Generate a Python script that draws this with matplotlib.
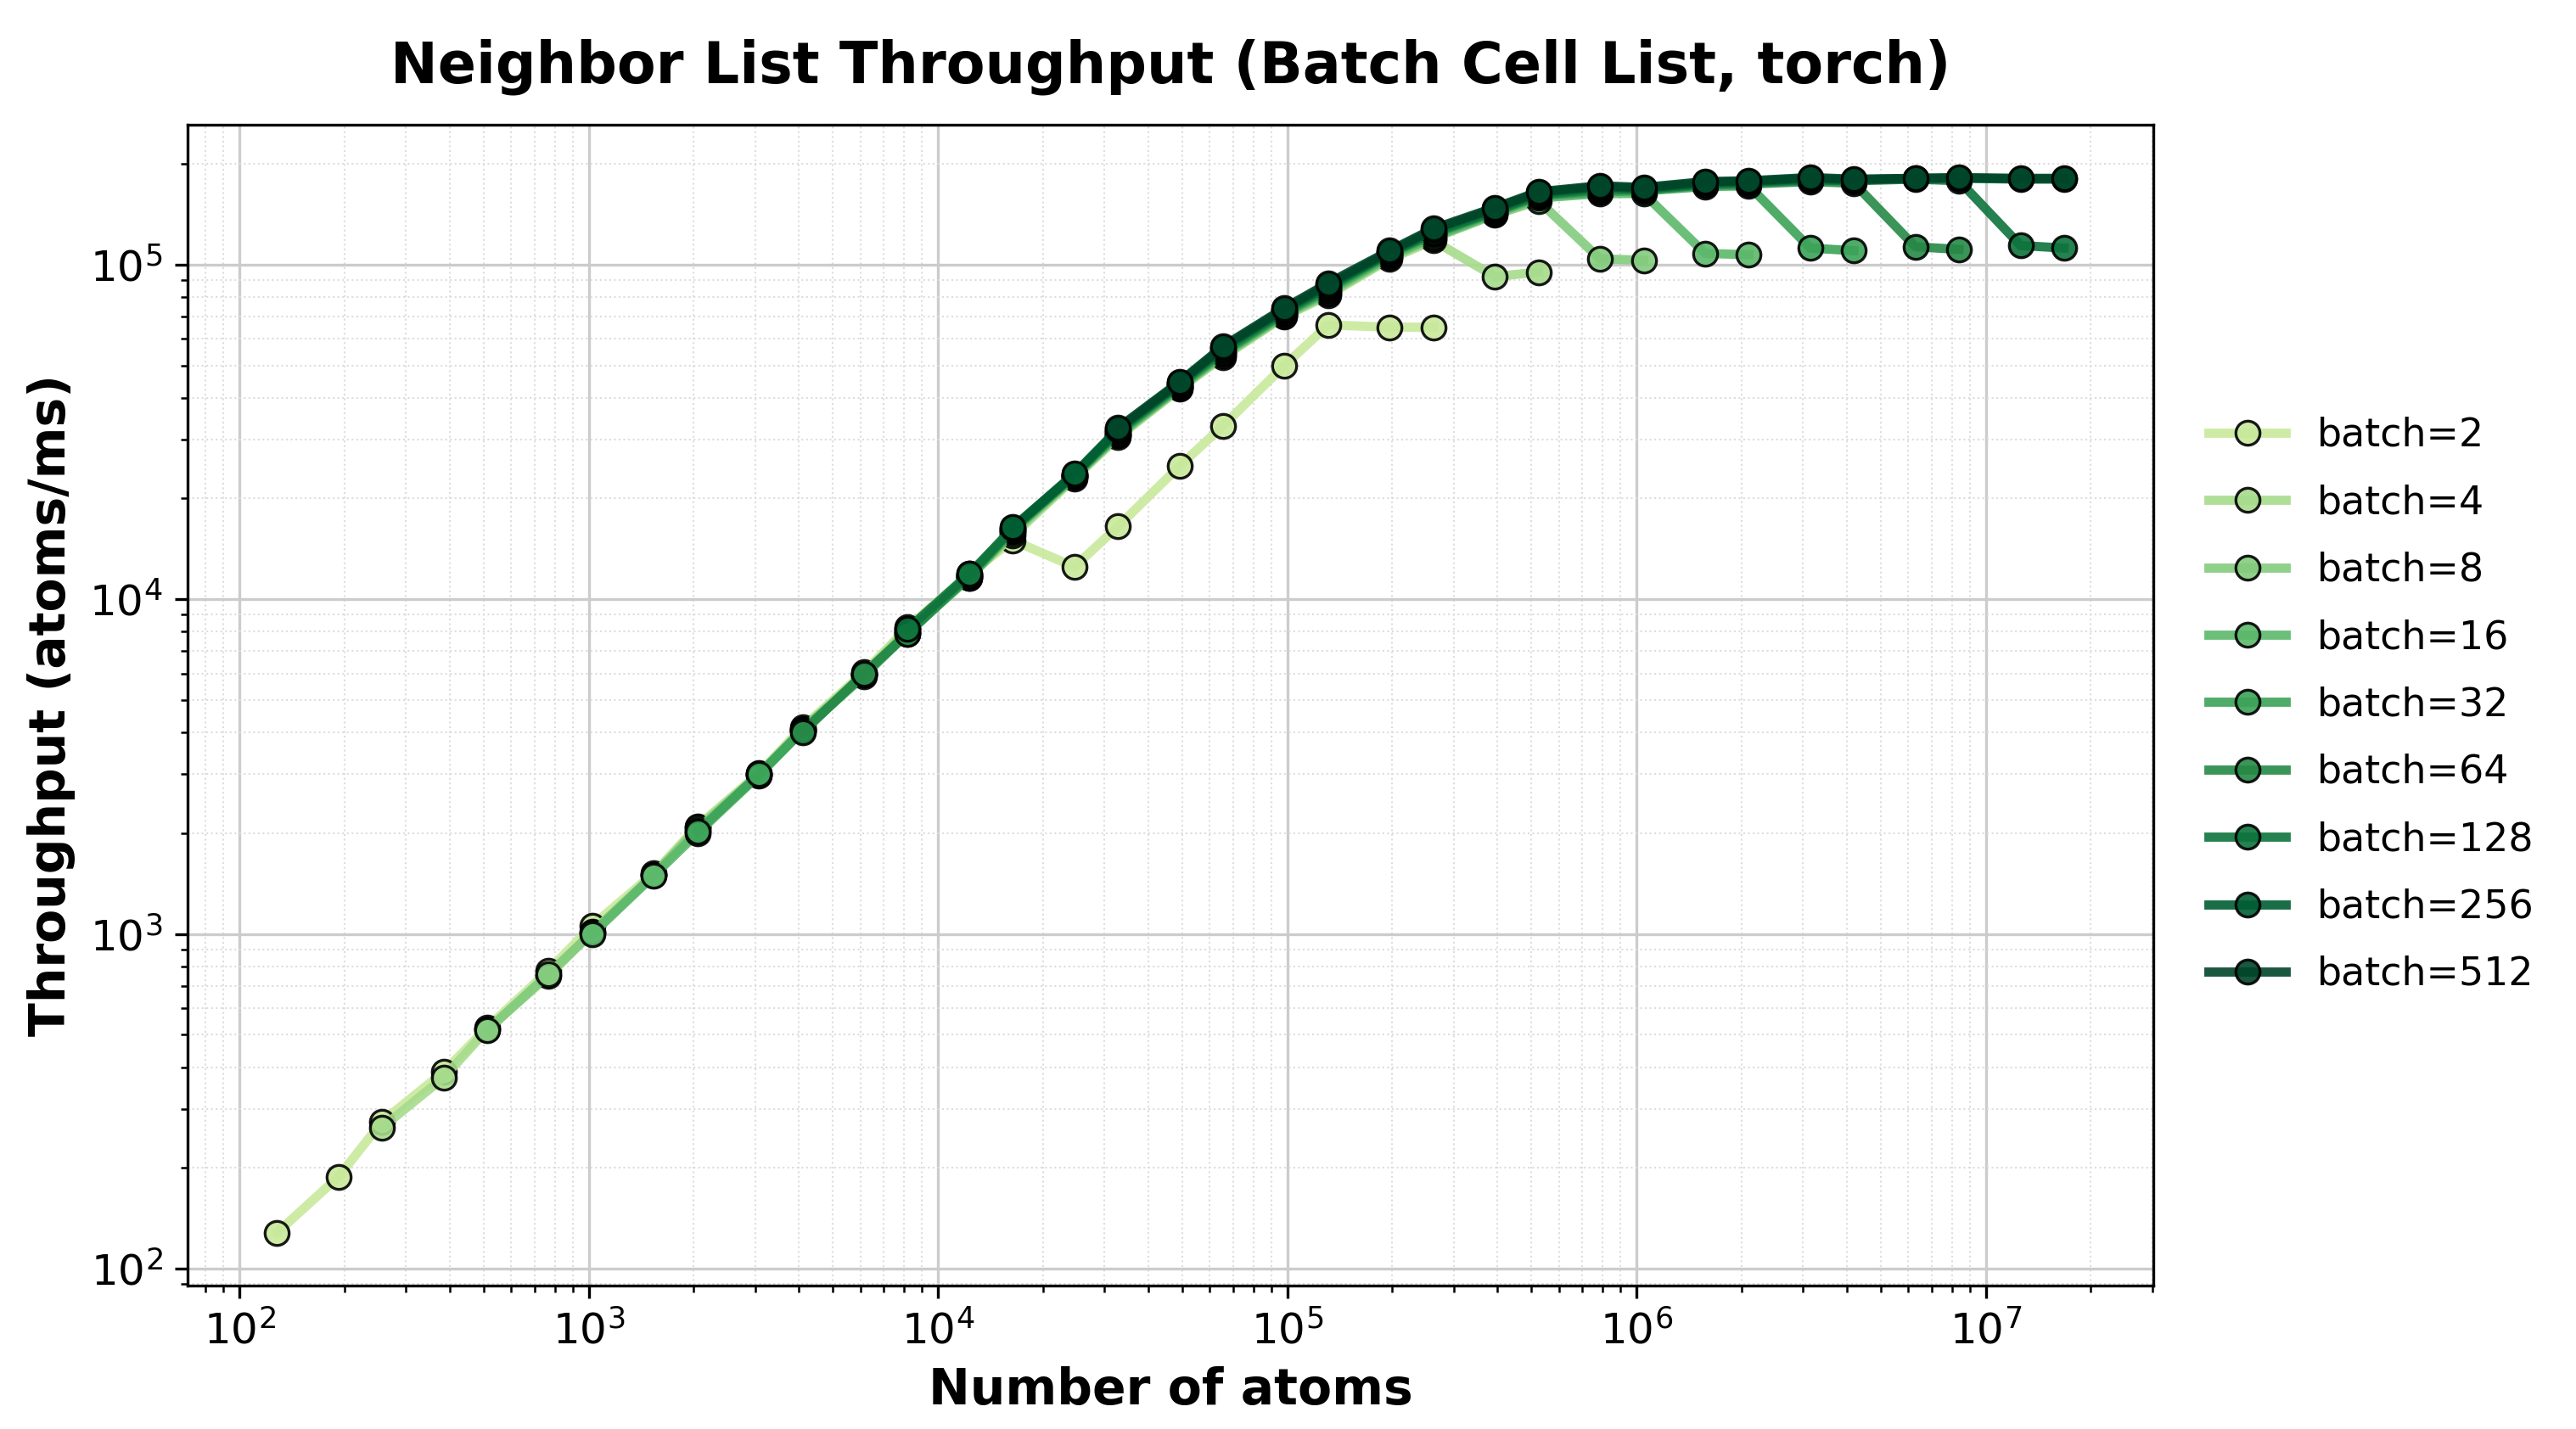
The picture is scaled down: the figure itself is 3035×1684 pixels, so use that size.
import numpy as np
import matplotlib
matplotlib.use("Agg")
import matplotlib.pyplot as plt

# atoms per system; total atoms = batch * system size
system_sizes = [64, 96, 128, 192, 256, 384, 512, 768, 1024, 1536, 2048, 3072, 4096,
                6144, 8192, 12288, 16384, 24576, 32768, 49152, 65536, 98304, 131072]

batches = [2, 4, 8, 16, 32, 64, 128, 256, 512]

# throughput (atoms/ms), one value per system size
tp_b2 = [128, 188, 275, 387, 525, 778, 1060, 1520, 2100, 3020, 4150, 6050, 8250,
         11900, 15000, 12500, 16500, 25000, 33000, 50000, 66000, 65000, 65000]
tp_b4 = [264, 372, 518, 750, 1015, 1500, 2080, 3000, 4100, 6000, 8100, 11700, 15500,
         23000, 30500, 42500, 53000, 70000, 81000, 104000, 118000, 92000, 95000]
tp_b8 = [515, 760, 1010, 1505, 2050, 2990, 4080, 5950, 8000, 11600, 15800, 23200, 30800,
         42800, 53500, 70500, 82000, 105000, 120000, 141000, 155000, 104000, 103000]
tp_b16 = [1000, 1495, 2000, 2980, 4050, 5900, 7950, 11600, 16000, 23300, 31000, 43000,
          54000, 71000, 83000, 106000, 121000, 142000, 158000, 163000, 163000, 108000, 107000]
tp_b32 = [2020, 3000, 4050, 5950, 7900, 11700, 16100, 23400, 31300, 43300, 54500, 71500,
          84000, 107000, 123000, 143000, 160000, 165000, 166000, 171000, 172000, 112000, 110000]
tp_b64 = [4000, 6000, 7900, 11800, 16200, 23500, 31600, 43700, 55000, 72000, 85000, 108000,
          124000, 144000, 161000, 167000, 167000, 173000, 174000, 177000, 175000, 113000, 111000]
tp_b128 = [8150, 11900, 16300, 23600, 31900, 44000, 55800, 72800, 86000, 108500, 125000,
           145000, 162000, 169000, 168000, 174000, 176000, 179000, 178000, 180000, 178000,
           114000, 112000]
tp_b256 = [16400, 23700, 32200, 44300, 56500, 73500, 87000, 109000, 127000, 147000, 164000,
           171000, 169000, 176000, 177000, 181000, 179000, 181000, 181000, 180000, 180000]
tp_b512 = [32500, 44600, 57000, 74200, 88000, 110000, 128000, 148000, 165000,
           172000, 170000, 177000, 178000, 182000, 180000, 181000, 182000, 181000, 181000]

throughputs = [tp_b2, tp_b4, tp_b8, tp_b16, tp_b32, tp_b64, tp_b128, tp_b256, tp_b512]

colors = plt.cm.YlGn(np.linspace(0.3, 1.0, len(batches)))

fig = plt.figure(figsize=(3035 / 300, 1684 / 300), dpi=300)
ax = fig.add_axes([0.0728, 0.1004, 0.7632, 0.8123])

for b, tp, c in zip(batches, throughputs, colors):
    x = [b * s for s in system_sizes[:len(tp)]]
    ax.plot(x, tp, '-o', color=c, lw=2.6, ms=6.8, mec='black', mew=0.8,
            alpha=0.9, label=f'batch={b}')

ax.set_xscale('log')
ax.set_yscale('log')
ax.grid(True, which='major', color='#cccccc', lw=0.8)
ax.grid(True, which='minor', color='#dddddd', lw=0.5, ls=':')
ax.set_axisbelow(True)

ax.set_xlabel('Number of atoms', fontsize=14, fontweight='bold')
ax.set_ylabel('Throughput (atoms/ms)', fontsize=14, fontweight='bold')
ax.set_title('Neighbor List Throughput (Batch Cell List, torch)', fontsize=16,
             fontweight='bold', pad=12)
ax.tick_params(labelsize=12)

ax.legend(loc='center left', bbox_to_anchor=(1.01, 0.5), frameon=False, fontsize=11,
          handlelength=2.0, labelspacing=0.75)

fig.savefig('out.png', dpi=300)
